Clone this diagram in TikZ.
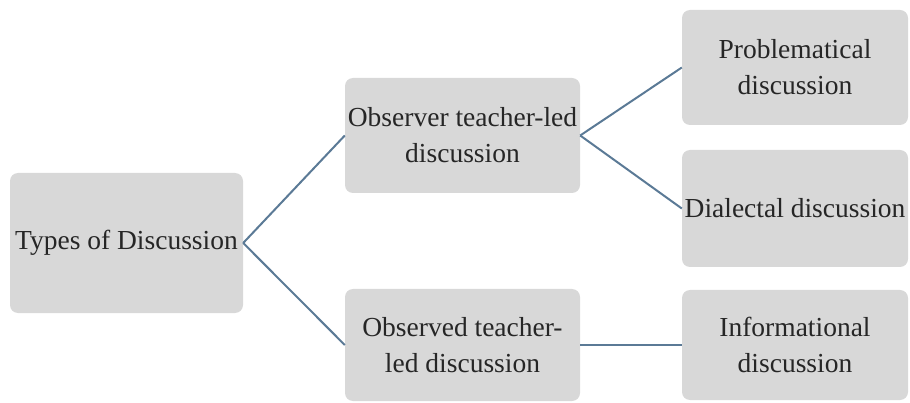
\documentclass[tikz,border=0pt]{standalone}
\usepackage{fontspec}
\setmainfont{Liberation Serif}
\definecolor{boxfill}{HTML}{D8D8D8}
\definecolor{linkcol}{HTML}{5B7A96}
\begin{document}
\begin{tikzpicture}[x=1pt,y=-1pt,
  box/.style={rectangle, rounded corners=8pt, fill=boxfill, align=center,
    inner sep=0pt, font=\fontsize{27.5}{36}\selectfont, text=black!85},
  link/.style={draw=linkcol, line width=2pt}]
\useasboundingbox (0,0) rectangle (910,403);
\node[box, minimum width=233pt, minimum height=140pt] (root) at (126.5,243) {Types of Discussion};
\node[box, minimum width=235pt, minimum height=115pt] (obs1) at (462.5,135.5) {Observer teacher-led\\discussion};
\node[box, minimum width=235pt, minimum height=112pt] (obs2) at (462.5,345) {Observed teacher-\\led discussion};
\node[box, minimum width=226pt, minimum height=115pt] (prob) at (795,67.5) {Problematical\\discussion};
\node[box, minimum width=226pt, minimum height=117pt] (dial) at (795,208.5) {Dialectal discussion};
\node[box, minimum width=226pt, minimum height=110pt] (info) at (795,345) {Informational\\discussion};
\draw[link] (root.east) -- (obs1.west);
\draw[link] (root.east) -- (obs2.west);
\draw[link] (obs1.east) -- (prob.west);
\draw[link] (obs1.east) -- (dial.west);
\draw[link] (obs2.east) -- (info.west);
\end{tikzpicture}
\end{document}
